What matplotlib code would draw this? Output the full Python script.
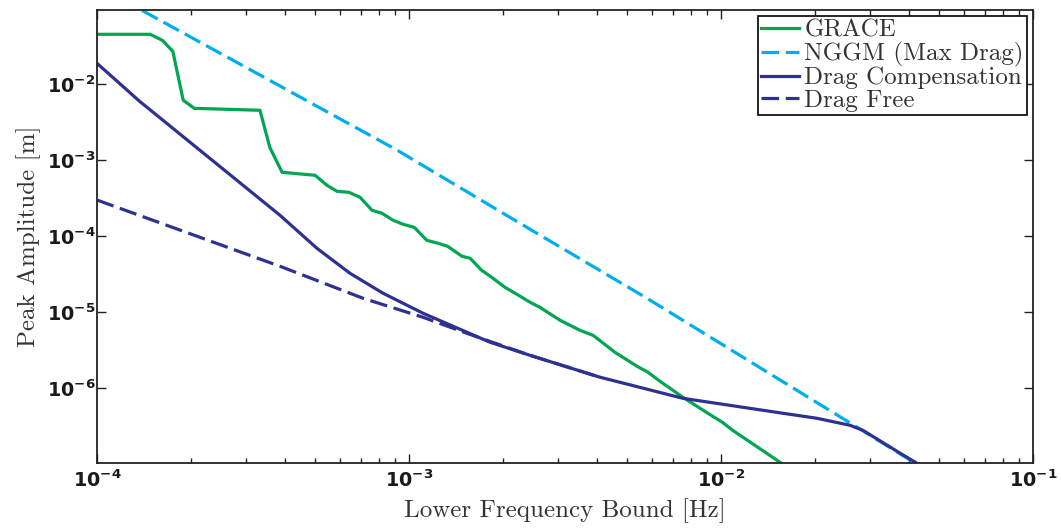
import matplotlib
matplotlib.use("Agg")
import matplotlib.pyplot as plt
from matplotlib.ticker import LogLocator, NullLocator, LogFormatterSciNotation

# fonte dos números dos eixos: sans em negrito
plt.rcParams["font.family"] = "DejaVu Sans"
plt.rcParams["font.weight"] = "bold"
plt.rcParams["font.size"] = 13.8
plt.rcParams["mathtext.default"] = "regular"

# ---------- dados ----------
grace_f = [1.00e-4, 1.48e-4, 1.62e-4, 1.75e-4, 1.89e-4, 2.05e-4, 3.33e-4, 3.58e-4,
           3.92e-4, 5.00e-4, 5.46e-4, 5.88e-4, 6.42e-4, 6.97e-4, 7.61e-4, 8.19e-4,
           8.88e-4, 9.57e-4, 1.04e-3, 1.14e-3, 1.24e-3, 1.33e-3, 1.48e-3, 1.57e-3,
           1.71e-3, 1.86e-3, 2.03e-3, 2.19e-3, 2.44e-3, 2.63e-3, 3.05e-3, 3.53e-3,
           3.89e-3, 4.57e-3, 5.38e-3, 5.83e-3, 6.37e-3, 7.55e-3, 8.57e-3, 1.01e-2,
           1.09e-2, 1.58e-2]
grace_a = [4.55e-2, 4.55e-2, 3.79e-2, 2.72e-2, 6.16e-3, 4.83e-3, 4.55e-3, 1.48e-3,
           6.95e-4, 6.35e-4, 4.69e-4, 3.91e-4, 3.79e-4, 3.26e-4, 2.20e-4, 2.01e-4,
           1.63e-4, 1.44e-4, 1.31e-4, 8.85e-5, 8.09e-5, 7.38e-5, 5.45e-5, 5.14e-5,
           3.57e-5, 2.80e-5, 2.13e-5, 1.78e-5, 1.36e-5, 1.16e-5, 7.85e-6, 5.80e-6,
           4.98e-6, 2.98e-6, 1.95e-6, 1.63e-6, 1.24e-6, 7.62e-7, 5.45e-7, 3.57e-7,
           2.80e-7, 1.00e-7]

nggm_f = [1.00e-4, 1.43e-4, 9.16e-4, 2.27e-3, 5.79e-3, 2.73e-2, 4.25e-2]
nggm_a = [1.96e-1, 8.86e-2, 1.36e-3, 1.48e-4, 1.53e-5, 3.07e-7, 1.00e-7]

comp_f = [1.00e-4, 1.37e-4, 3.86e-4, 5.07e-4, 6.47e-4, 8.26e-4, 1.11e-3, 1.82e-3,
          2.44e-3, 4.09e-3, 7.55e-3, 1.58e-2, 2.03e-2, 2.59e-2, 2.85e-2, 3.75e-2,
          4.25e-2]
comp_a = [1.89e-2, 5.97e-3, 1.89e-4, 6.95e-5, 3.26e-5, 1.78e-5, 9.70e-6, 4.03e-6,
          2.72e-6, 1.40e-6, 7.38e-7, 4.69e-7, 4.03e-7, 3.26e-7, 2.80e-7, 1.40e-7,
          1.03e-7]

free_f = [1.00e-4, 3.86e-4, 7.12e-4, 1.11e-3, 1.53e-3, 2.44e-3, 4.09e-3]
free_a = [3.00e-4, 4.03e-5, 1.53e-5, 8.59e-6, 5.30e-6, 2.72e-6, 1.40e-6]

verde = "#00A651"
azul_claro = "#00AEEF"
azul_escuro = "#2E3192"

fig = plt.figure(figsize=(10.61, 5.29), dpi=100)
ax = fig.add_axes([0.0914, 0.1248, 0.8822, 0.8563])

lw = 2.3
tracejado = (5.5, 2.1)
ax.plot(grace_f, grace_a, color=verde, lw=lw, label="GRACE")
ax.plot(nggm_f, nggm_a, color=azul_claro, lw=lw, dashes=tracejado, label="NGGM (Max Drag)")
ax.plot(comp_f, comp_a, color=azul_escuro, lw=lw, label="Drag Compensation")
ax.plot(free_f, free_a, color=azul_escuro, lw=lw, dashes=tracejado, label="Drag Free")

ax.set_xscale("log")
ax.set_yscale("log")
ax.set_xlim(1e-4, 1e-1)
ax.set_ylim(1.04e-7, 0.095)

ax.xaxis.set_major_locator(LogLocator(base=10, numticks=10))
ax.xaxis.set_minor_locator(LogLocator(base=10, subs=range(2, 10), numticks=10))
ax.set_yticks([1e-6, 1e-5, 1e-4, 1e-3, 1e-2])
ax.yaxis.set_minor_locator(NullLocator())
ax.yaxis.set_major_formatter(LogFormatterSciNotation())

ax.tick_params(which="both", direction="in", top=True, right=True, width=1.0,
               color="#222222", labelcolor="#1a1a1a")
ax.tick_params(which="major", length=6.5)
ax.tick_params(which="minor", length=3.5)
ax.tick_params(axis="y", pad=1)
ax.tick_params(axis="x", pad=5)

for s in ax.spines.values():
    s.set_linewidth(1.3)
    s.set_color("#222222")

rotulo = {"family": "cmr10", "weight": "normal", "size": 18}
ax.set_xlabel("Lower Frequency Bound [Hz]", fontdict=rotulo, color="#333333", labelpad=5)
ax.set_ylabel("Peak Amplitude [m]", fontdict=rotulo, color="#333333", labelpad=4)

leg = ax.legend(loc="upper right", prop={"family": "cmr10", "weight": "normal", "size": 18},
                frameon=True, fancybox=False, edgecolor="black", framealpha=1,
                borderpad=0.12, labelspacing=0.0, handlelength=1.55,
                handletextpad=0.2, borderaxespad=0.25)
leg.get_frame().set_linewidth(1.2)
for t in leg.get_texts():
    t.set_color("#333333")

fig.savefig("out.png", dpi=100)
